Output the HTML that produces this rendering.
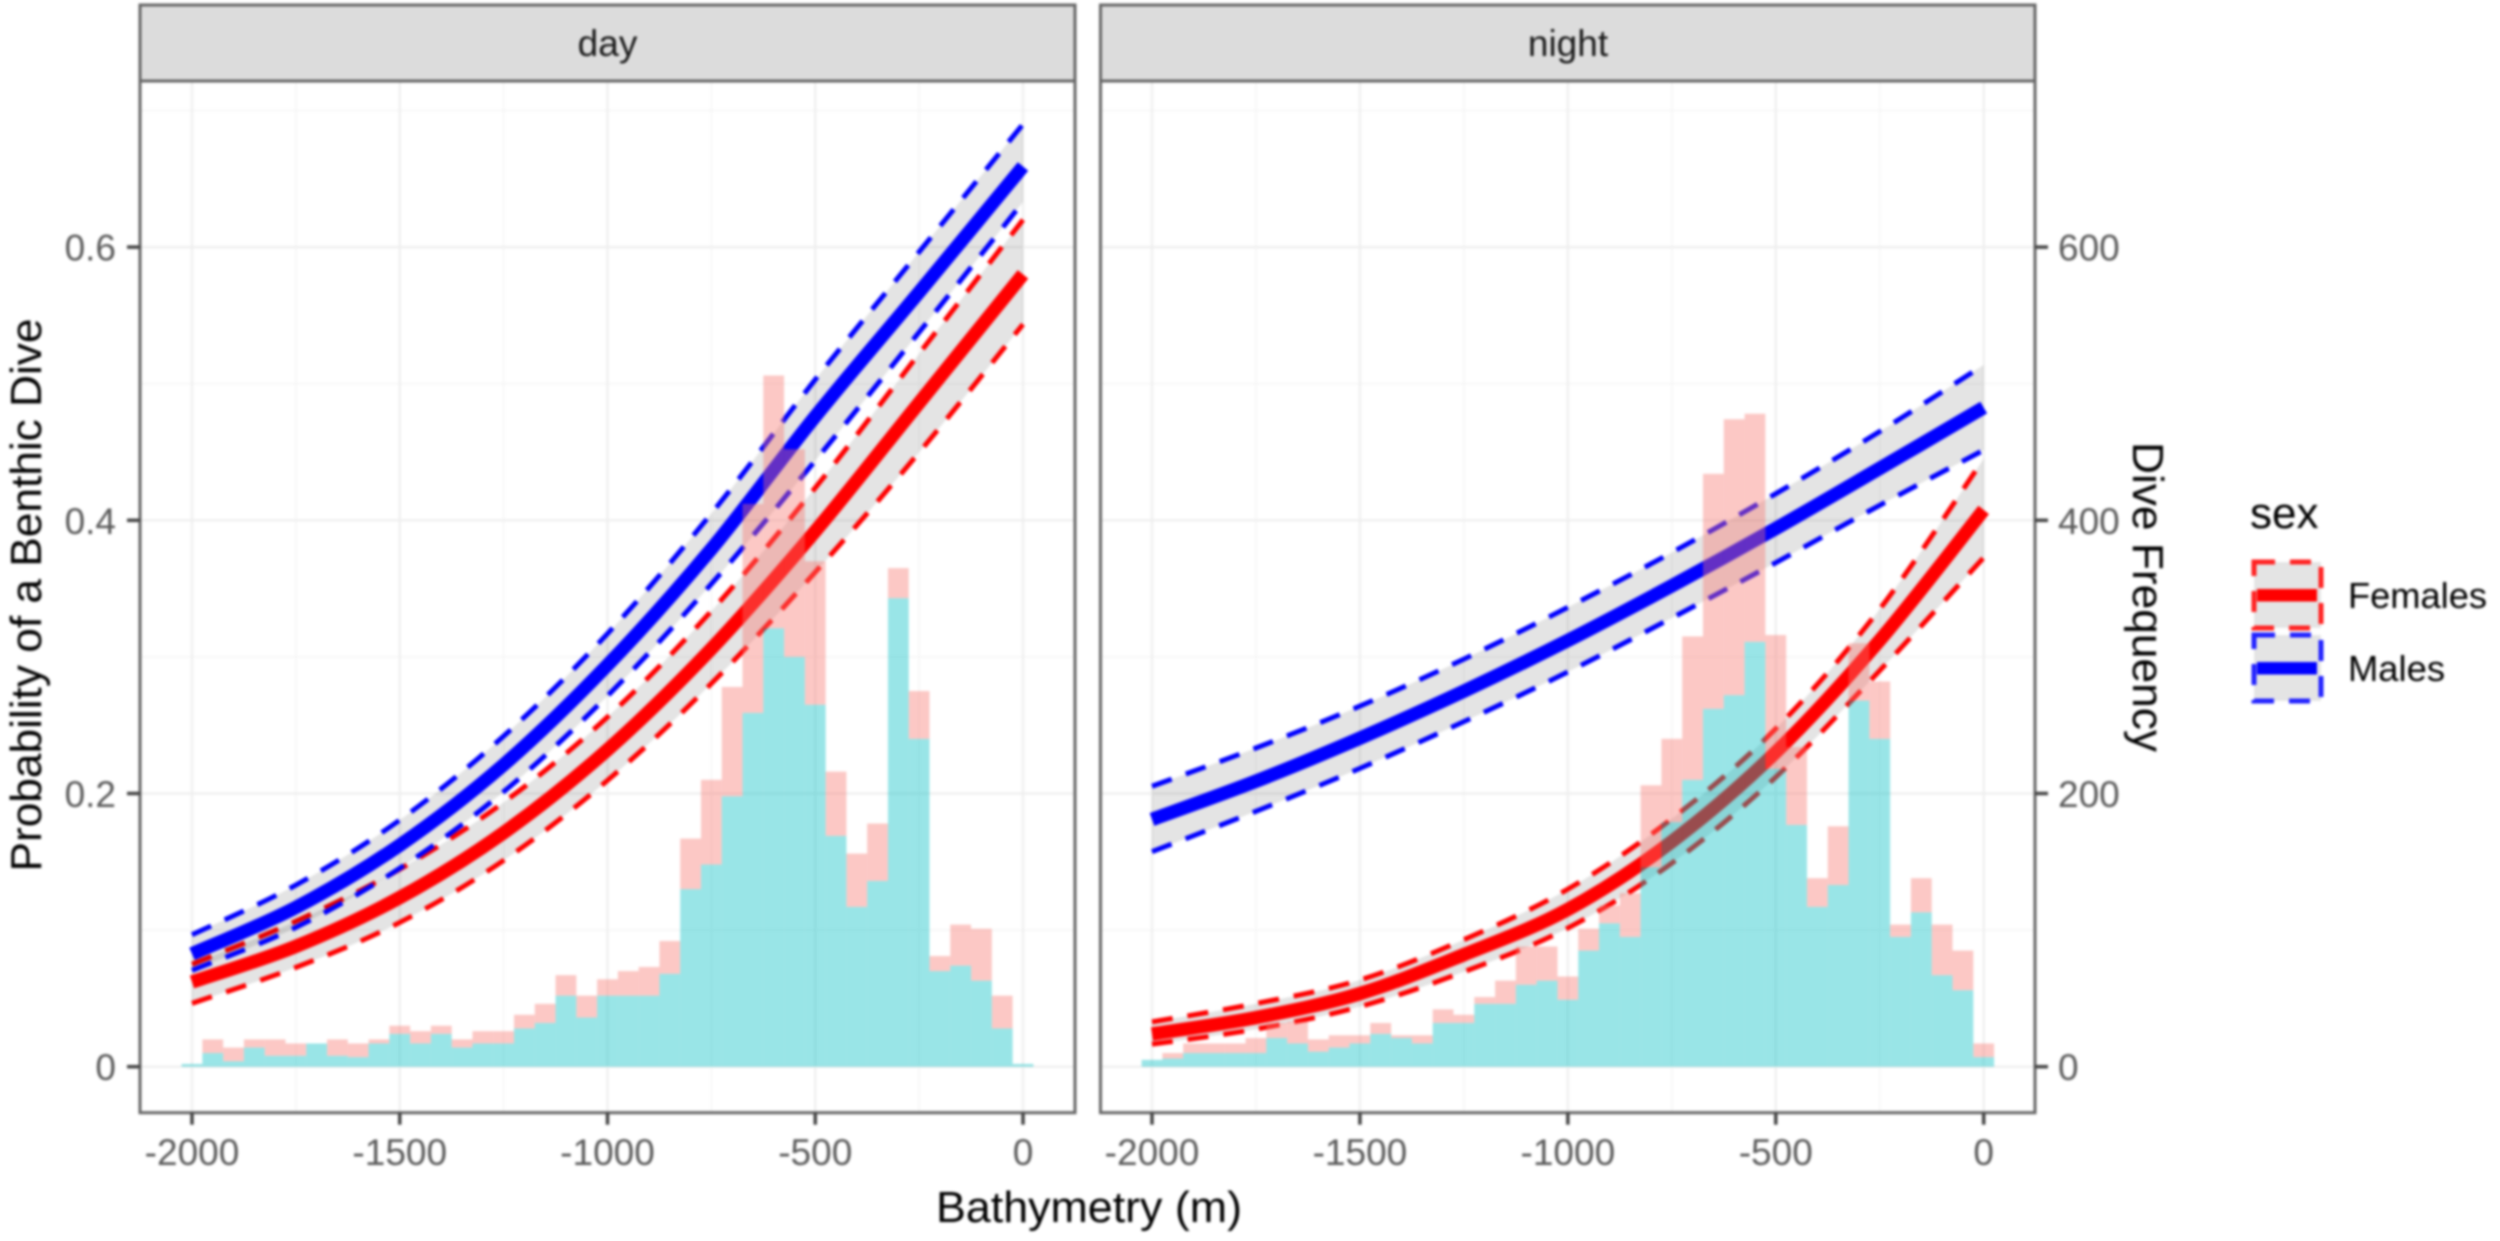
<!DOCTYPE html>
<html lang="en">
<head>
<meta charset="utf-8">
<title>Probability of a Benthic Dive by Bathymetry</title>
<style>
html,body{margin:0;padding:0;background:#fff;width:2500px;height:1241px;overflow:hidden}
svg{display:block;filter:blur(1.2px);font-family:"Liberation Sans",sans-serif}
.tick{fill:#5a5a5a;font-size:37px}
.title{fill:#000;font-size:44px}
.strip{fill:#1a1a1a;font-size:37px}
.leg{fill:#000;font-size:36px}
</style>
</head>
<body>
<svg id="chart" xmlns="http://www.w3.org/2000/svg" width="2500" height="1241" viewBox="0 0 2500 1241">
  <rect x="-10" y="-10" width="2520" height="1261" fill="#fff"/>

  <g id="day-panel"></g>
  <g id="night-panel"></g>

  <rect x="140" y="5" width="935" height="76" fill="#dcdcdc" stroke="#666" stroke-width="3"/>
  <text class="strip" x="607.5" y="56" text-anchor="middle">day</text>
  <rect x="1100.5" y="5" width="934.5" height="76" fill="#dcdcdc" stroke="#666" stroke-width="3"/>
  <text class="strip" x="1568" y="56" text-anchor="middle">night</text>

  <text class="title" transform="translate(41,595) rotate(-90)" text-anchor="middle" textLength="553" lengthAdjust="spacingAndGlyphs">Probability of a Benthic Dive</text>
  <text class="title" x="1089" y="1222" text-anchor="middle" textLength="306" lengthAdjust="spacingAndGlyphs">Bathymetry (m)</text>
  <text class="title" transform="translate(2133,597) rotate(90)" text-anchor="middle" textLength="310" lengthAdjust="spacingAndGlyphs">Dive Frequency</text>

  <g>
    <text class="title" x="2250" y="528">sex</text>
    <g>
      <rect x="2254" y="562" width="67" height="66" fill="#e4e4e4" stroke="#f22" stroke-width="5" stroke-dasharray="21 15"/>
      <rect x="2257" y="589" width="60" height="12.5" fill="#f00"/>
      <text class="leg" x="2348" y="608" textLength="139" lengthAdjust="spacingAndGlyphs">Females</text>
    </g>
    <g>
      <rect x="2254" y="635" width="67" height="66" fill="#e4e4e4" stroke="#22f" stroke-width="5" stroke-dasharray="21 15"/>
      <rect x="2257" y="662" width="60" height="12.5" fill="#00f"/>
      <text class="leg" x="2348" y="681" textLength="97" lengthAdjust="spacingAndGlyphs">Males</text>
    </g>
  </g>
</svg>

<script>
// ---- tick labels ----
const xTicks = [-2000, -1500, -1000, -500, 0];
const xMinorTicks = [-1750, -1250, -750, -250];
const yTicks = [0, 0.2, 0.4, 0.6];
const yMinorTicks = [0.1, 0.3, 0.5, 0.7];
const leftTickLabels = ['0', '0.2', '0.4', '0.6'];
const rightTickLabels = ['0', '200', '400', '600'];

// ---- histogram bins (bathymetry, m) ----
const bins = [-2000,-1950,-1900,-1850,-1800,-1750,-1700,-1650,-1600,-1550,-1500,-1450,-1400,-1350,-1300,-1250,-1200,-1150,-1100,-1050,-1000,-950,-900,-850,-800,-750,-700,-650,-600,-550,-500,-450,-400,-350,-300,-250,-200,-150,-100,-50,0];

// ---- dive counts per bin (stacked: males below, females above) ----
const dayMaleCounts = [2,10,4,14,8,8,17,8,7,17,24,17,24,14,17,17,28,32,52,36,52,52,52,68,130,148,198,259,321,300,265,169,117,136,343,240,70,74,63,28,2];
const dayFemaleCounts = [0,10,10,6,12,9,0,12,10,3,6,9,6,6,9,9,10,14,15,16,12,18,21,24,37,62,80,153,185,152,105,47,39,42,22,35,11,30,38,24,0];
const nightMaleCounts = [5,6,10,10,10,10,21,17,11,14,17,24,21,17,32,32,46,46,60,63,49,85,105,95,146,179,210,262,272,311,218,177,117,133,268,240,95,113,67,56,7];
const nightFemaleCounts = [0,4,7,7,7,11,11,16,9,9,6,8,2,6,10,6,5,17,28,25,17,16,13,32,60,61,105,172,202,167,98,57,21,43,42,42,9,25,37,29,10];

// ---- fitted curves, read at these bathymetry values ----
const curveBathy = [-2000,-1750,-1500,-1250,-1000,-750,-500,-250,0];
const dayMaleFit = [0.0826,0.1166,0.1622,0.221,0.294,0.379,0.476,0.567,0.659];
const dayMaleUpper = [0.0966,0.133,0.1806,0.242,0.317,0.405,0.503,0.5965,0.69];
const dayMaleLower = [0.0705,0.102,0.1453,0.2013,0.2715,0.3534,0.4437,0.5377,0.633];
const dayFemaleFit = [0.062,0.0881,0.1238,0.1713,0.232,0.306,0.392,0.486,0.58];
const dayFemaleUpper = [0.075,0.1065,0.1446,0.1935,0.256,0.3336,0.4238,0.522,0.62];
const dayFemaleLower = [0.0464,0.0727,0.1056,0.151,0.2096,0.2805,0.362,0.4497,0.5435];
const nightMaleFit = [0.181,0.209,0.2405,0.2749,0.312,0.352,0.394,0.438,0.4825];
const nightMaleUpper = [0.2053,0.2333,0.264,0.2984,0.3363,0.3764,0.4195,0.465,0.5137];
const nightMaleLower = [0.1574,0.187,0.2184,0.2526,0.289,0.3285,0.369,0.411,0.4514];
const nightFemaleFit = [0.024,0.0359,0.0535,0.082,0.1151,0.1648,0.2302,0.3122,0.4076];
const nightFemaleUpper = [0.0328,0.0462,0.0635,0.093,0.13,0.1815,0.2475,0.335,0.445];
const nightFemaleLower = [0.0165,0.0275,0.044,0.0695,0.1015,0.149,0.212,0.29,0.3727];

// ---- layout ----
const NS = 'http://www.w3.org/2000/svg';
const PANEL_TOP = 81, PANEL_BOTTOM = 1112.7;
const BASE_Y = 1066.7, PX_PER_UNIT = 1366;
const yAxis = function (v) { return BASE_Y - v * PX_PER_UNIT; };
const countAxis = function (c) { return BASE_Y - (c / 1000) * PX_PER_UNIT; };
const BIN_WIDTH = 50;

function make(parent, tag, attrs) {
  const el = document.createElementNS(NS, tag);
  for (const k in attrs) el.setAttribute(k, attrs[k]);
  parent.appendChild(el);
  return el;
}

function segments(px, py) {
  // Catmull-Rom through the read points, expressed as cubic Beziers
  let d = '';
  for (let i = 0; i < px.length - 1; i++) {
    const x0 = px[Math.max(i - 1, 0)], y0 = py[Math.max(i - 1, 0)];
    const x1 = px[i], y1 = py[i], x2 = px[i + 1], y2 = py[i + 1];
    const x3 = px[Math.min(i + 2, px.length - 1)], y3 = py[Math.min(i + 2, px.length - 1)];
    const c1x = x1 + (x2 - x0) / 6, c1y = y1 + (y2 - y0) / 6;
    const c2x = x2 - (x3 - x1) / 6, c2y = y2 - (y3 - y1) / 6;
    d += ' C' + c1x.toFixed(2) + ' ' + c1y.toFixed(2) + ' ' + c2x.toFixed(2) + ' ' + c2y.toFixed(2) + ' ' + x2.toFixed(2) + ' ' + y2.toFixed(2);
  }
  return d;
}

function drawCurveSet(group, xAxis, series, label) {
  const px = curveBathy.map(xAxis);
  const pxRev = px.slice().reverse();
  const upY = series.upper.map(yAxis);
  const loY = series.lower.map(yAxis).reverse();
  const fitY = series.fit.map(yAxis);

  const ribbon = make(group, 'path', {
    d: 'M' + px[0] + ' ' + upY[0] + segments(px, upY) + ' L' + pxRev[0] + ' ' + loY[0] + segments(pxRev, loY) + ' Z',
    fill: '#000', 'fill-opacity': 0.105, stroke: 'none'
  });
  
  

  const upper = make(group, 'path', {
    d: 'M' + px[0] + ' ' + upY[0] + segments(px, upY),
    fill: 'none', stroke: series.color, 'stroke-width': 5, 'stroke-dasharray': '21 15'
  });
  
  

  const lower = make(group, 'path', {
    d: 'M' + px[0] + ' ' + series.lower.map(yAxis)[0] + segments(px, series.lower.map(yAxis)),
    fill: 'none', stroke: series.color, 'stroke-width': 5, 'stroke-dasharray': '21 15'
  });
  
  

  const fit = make(group, 'path', {
    d: 'M' + px[0] + ' ' + fitY[0] + segments(px, fitY),
    fill: 'none', stroke: series.color, 'stroke-width': 13.5
  });
  
  
}

function drawPanel(cfg) {
  const g = document.getElementById(cfg.id);
  const xAxis = function (v) { return cfg.zeroX + v * cfg.pxPerMetre; };

  yMinorTicks.forEach(function (v) {
    const line = make(g, 'line', { x1: cfg.left, x2: cfg.right, y1: yAxis(v), y2: yAxis(v), stroke: '#f5f5f5', 'stroke-width': 1.5 });
    
    
  });
  xMinorTicks.forEach(function (v) {
    const line = make(g, 'line', { x1: xAxis(v), x2: xAxis(v), y1: PANEL_TOP, y2: PANEL_BOTTOM, stroke: '#f5f5f5', 'stroke-width': 1.5 });
    
    
  });
  yTicks.forEach(function (v) {
    const line = make(g, 'line', { x1: cfg.left, x2: cfg.right, y1: yAxis(v), y2: yAxis(v), stroke: '#eeeeee', 'stroke-width': 2.2 });
    
    
  });
  xTicks.forEach(function (v) {
    const line = make(g, 'line', { x1: xAxis(v), x2: xAxis(v), y1: PANEL_TOP, y2: PANEL_BOTTOM, stroke: '#eeeeee', 'stroke-width': 2.2 });
    
    
  });

  cfg.curves.forEach(function (s) { drawCurveSet(g, xAxis, s, cfg.name + '-' + s.sex); });

  bins.forEach(function (b, i) {
    const x0 = xAxis(b - BIN_WIDTH / 2), x1 = xAxis(b + BIN_WIDTH / 2);
    const m = cfg.male[i], f = cfg.female[i];
    const maleBar = make(g, 'rect', {
      x: x0, width: x1 - x0, y: countAxis(m), height: BASE_Y - countAxis(m),
      fill: '#00BFC4', 'fill-opacity': 0.4
    });
    
    
    const femaleBar = make(g, 'rect', {
      x: x0, width: x1 - x0, y: countAxis(m + f), height: countAxis(m) - countAxis(m + f),
      fill: '#F8766D', 'fill-opacity': 0.4
    });
    
    
  });

  const border = make(g, 'rect', {
    x: cfg.left, y: PANEL_TOP, width: cfg.right - cfg.left, height: PANEL_BOTTOM - PANEL_TOP,
    fill: 'none', stroke: '#666', 'stroke-width': 3
  });
  
  

  xTicks.forEach(function (v) {
    const mark = make(g, 'line', { x1: xAxis(v), x2: xAxis(v), y1: PANEL_BOTTOM, y2: PANEL_BOTTOM + 12, stroke: '#444', 'stroke-width': 3.5 });
    
    
    const label = make(g, 'text', { x: xAxis(v), y: 1165, 'text-anchor': 'middle', class: 'tick' });
    
    
    label.textContent = String(v);
  });
}

drawPanel({
  id: 'day-panel', name: 'day', left: 140, right: 1075, zeroX: 1023, pxPerMetre: 0.4155,
  male: dayMaleCounts, female: dayFemaleCounts,
  curves: [
    { sex: 'females', color: '#f00', fit: dayFemaleFit, upper: dayFemaleUpper, lower: dayFemaleLower },
    { sex: 'males', color: '#00f', fit: dayMaleFit, upper: dayMaleUpper, lower: dayMaleLower }
  ]
});
drawPanel({
  id: 'night-panel', name: 'night', left: 1100.5, right: 2035, zeroX: 1983.7, pxPerMetre: 0.41585,
  male: nightMaleCounts, female: nightFemaleCounts,
  curves: [
    { sex: 'females', color: '#f00', fit: nightFemaleFit, upper: nightFemaleUpper, lower: nightFemaleLower },
    { sex: 'males', color: '#00f', fit: nightMaleFit, upper: nightMaleUpper, lower: nightMaleLower }
  ]
});

// y axes: probability on the left panel, dive frequency on the right panel
const leftAxisGroup = document.getElementById('day-panel');
const rightAxisGroup = document.getElementById('night-panel');
yTicks.forEach(function (v, i) {
  const leftMark = make(leftAxisGroup, 'line', { x1: 127, x2: 140, y1: yAxis(v), y2: yAxis(v), stroke: '#444', 'stroke-width': 3.5 });
  
  
  const leftLabel = make(leftAxisGroup, 'text', { x: 116, y: yAxis(v) + 13.5, 'text-anchor': 'end', class: 'tick' });
  
  
  leftLabel.textContent = leftTickLabels[i];

  const rightMark = make(rightAxisGroup, 'line', { x1: 2035, x2: 2048, y1: yAxis(v), y2: yAxis(v), stroke: '#444', 'stroke-width': 3.5 });
  
  
  const rightLabel = make(rightAxisGroup, 'text', { x: 2058, y: yAxis(v) + 13.5, 'text-anchor': 'start', class: 'tick' });
  
  
  rightLabel.textContent = rightTickLabels[i];
});
</script>
</body>
</html>
